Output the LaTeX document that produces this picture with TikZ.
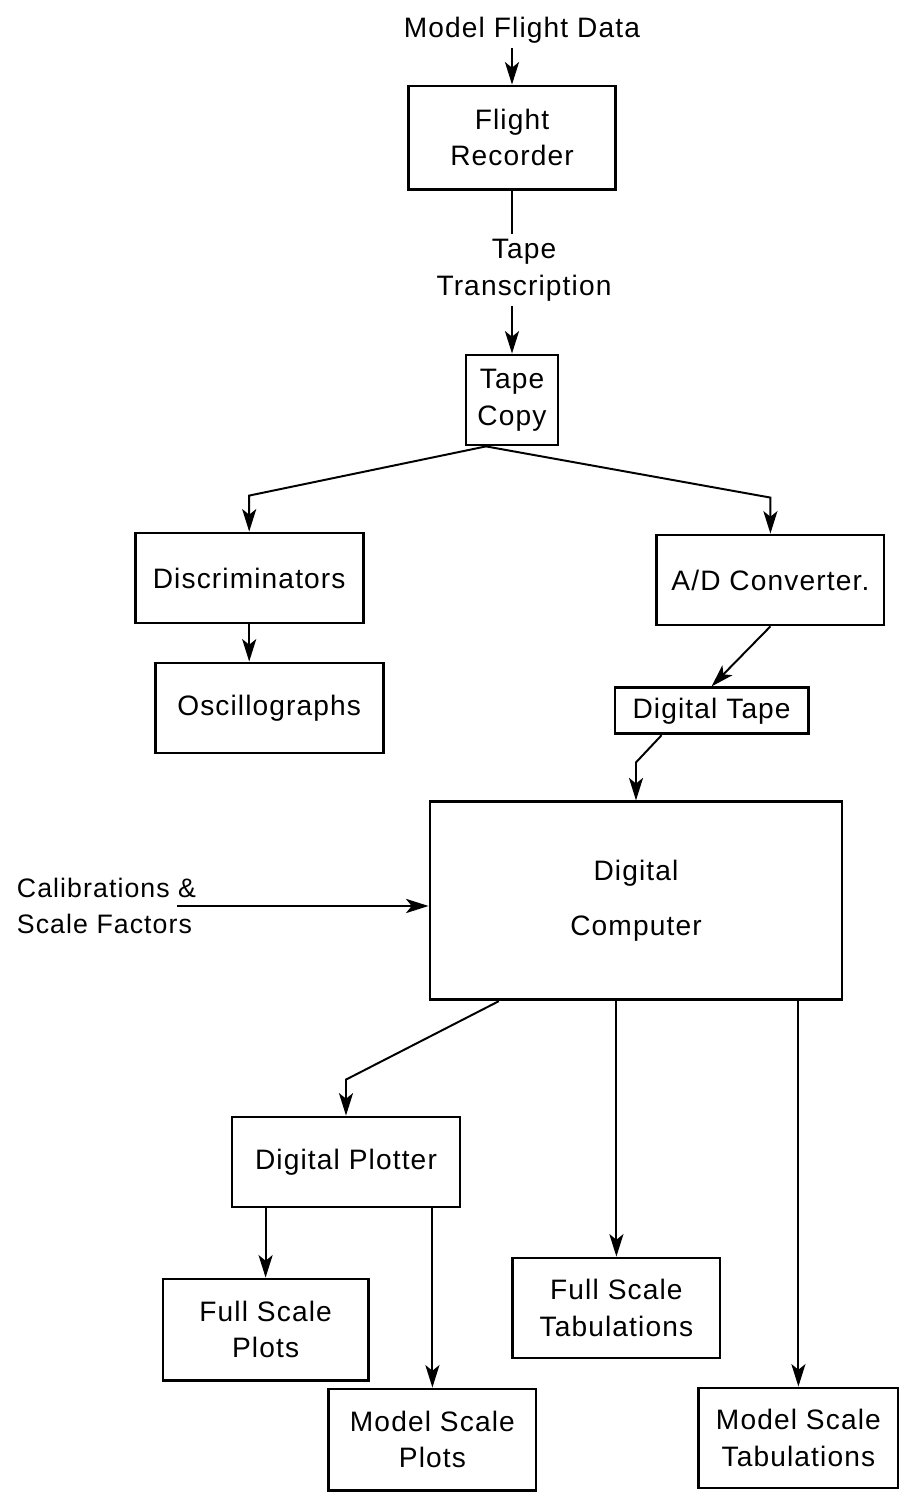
\documentclass[tikz,border=0pt]{standalone}
\usepackage{fontspec}
\setmainfont{Liberation Sans}[LetterSpace=4]
\usetikzlibrary{arrows.meta}
\begin{document}
\begin{tikzpicture}[
    unit/.style={draw, line width=2pt, align=center, inner sep=2pt,
                 font=\fontsize{20}{26}\selectfont},
    txt/.style={align=center, font=\fontsize{20}{26}\selectfont},
    arr/.style={-{Stealth[length=16pt,width=10pt,inset=4pt]}, line width=1.4pt}
]
\useasboundingbox (0,0) rectangle (22.7,37.55);
\node[txt] (data) at (13.05,36.8) {Model Flight Data};
\node[unit, minimum width=5.18cm, minimum height=2.58cm] (rec) at (12.8,34.11) {Flight\\Recorder};
\node[txt] (trans) at (13.1,30.8) {Tape\\Transcription};
\node[unit, minimum width=2.3cm, minimum height=2.25cm] (copy) at (12.8,27.55) {Tape\\Copy};
\node[unit, minimum width=5.7cm, minimum height=2.25cm] (disc) at (6.23,23.1) {Discriminators};
\node[unit, minimum width=5.7cm, minimum height=2.25cm] (osc) at (6.73,19.85) {Oscillographs};
\node[unit, minimum width=5.68cm, minimum height=2.25cm] (adc) at (19.26,23.05) {A/D Converter.};
\node[unit, minimum width=4.83cm, minimum height=1.15cm] (dtape) at (17.79,19.78) {Digital Tape};
\node[unit, minimum width=10.3cm, minimum height=4.95cm] (comp) at (15.9,15.03) {Digital\\[13pt]Computer};
\node[txt, align=left, anchor=west, font=\fontsize{19}{26}\selectfont] (calib) at (0.3,14.9) {Calibrations \&\\Scale Factors};
\node[unit, minimum width=5.7cm, minimum height=2.25cm] (plot) at (8.65,8.5) {Digital Plotter};
\node[unit, minimum width=5.13cm, minimum height=2.53cm] (fsp) at (6.64,4.31) {Full Scale\\Plots};
\node[unit, minimum width=5.18cm, minimum height=2.53cm] (msp) at (10.81,1.56) {Model Scale\\Plots};
\node[unit, minimum width=5.18cm, minimum height=2.5cm] (fst) at (15.41,4.85) {Full Scale\\Tabulations};
\node[unit, minimum width=4.98cm, minimum height=2.5cm] (mst) at (19.96,1.6) {Model Scale\\Tabulations};

\draw[arr] (data.south -| rec.north) -- (rec.north);
\draw[line width=1.4pt] (rec.south) -- (rec.south |- trans.north);
\draw[arr] (rec.south |- trans.south) -- (copy.north);
\draw[arr] ([xshift=-0.65cm]copy.south) -- ([yshift=0.9cm]disc.north) -- (disc.north);
\draw[arr] ([xshift=-0.65cm]copy.south) -- ([yshift=0.9cm]adc.north) -- (adc.north);
\draw[arr] (disc.south) -- (disc.south |- osc.north);
\draw[arr] (adc.south) -- (dtape.north);
\draw[arr] ([xshift=-1.25cm]dtape.south) -- ([yshift=0.95cm]comp.north) -- (comp.north);
\draw[arr, line width=2pt] ([xshift=-0.6cm]calib.east) -- (calib.east -| comp.west);
\draw[arr] ([xshift=-3.43cm]comp.south) -- ([yshift=0.9cm]plot.north) -- (plot.north);
\draw[arr] (fst.north |- comp.south) -- (fst.north);
\draw[arr] (mst.north |- comp.south) -- (mst.north);
\draw[arr] (fsp.north |- plot.south) -- (fsp.north);
\draw[arr] (msp.north |- plot.south) -- (msp.north);
\end{tikzpicture}
\end{document}
